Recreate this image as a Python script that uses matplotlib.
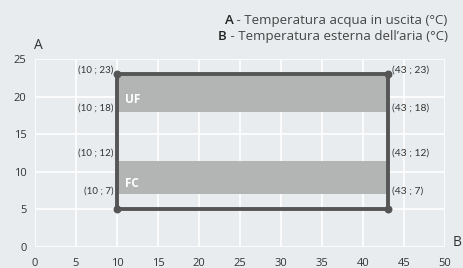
import matplotlib.pyplot as plt

# operating envelope (B = outdoor air temp, A = leaving water temp)
env_x = [10, 43, 43, 10, 10]
env_y = [23, 23, 5, 5, 23]
corner_x = [10, 43, 10, 43]
corner_y = [23, 23, 5, 5]

# shaded bands: (name, y_low, y_high)
bands = [("UF", 18, 23), ("FC", 7, 11.4)]

left_labels = ["(10 ; 23)", "(10 ; 18)", "(10 ; 12)", "(10 ; 7)"]
right_labels = ["(43 ; 23)", "(43 ; 18)", "(43 ; 12)", "(43 ; 7)"]
label_y = [23, 18, 12, 7]

x_ticks = [0, 5, 10, 15, 20, 25, 30, 35, 40, 45, 50]
y_ticks = [0, 5, 10, 15, 20, 25]

legend_keys = ["A", "B"]
legend_texts = [" - Temperatura acqua in uscita (°C)",
                " - Temperatura esterna dell\u2019aria (°C)"]

bg = "#e8ecee"
txt = "#333333"
main_font = ["Open Sans", "DejaVu Sans"]
plt.rcParams["font.family"] = main_font

fig = plt.figure(figsize=(4.63, 2.68), dpi=100, facecolor=bg)
ax = fig.add_axes([0.0756, 0.0784, 0.8855, 0.7016])
ax.set_facecolor(bg)

ax.set_xlim(0, 50)
ax.set_ylim(0, 25)
ax.set_xticks(x_ticks)
ax.set_yticks(y_ticks)
ax.grid(True, color="white", linewidth=1.2)
ax.set_axisbelow(True)
for s in ax.spines.values():
    s.set_visible(False)
ax.tick_params(length=0, labelsize=8, colors=txt, pad=6)
ax.tick_params(axis="x", pad=8)

for name, lo, hi in bands:
    ax.fill_between([10, 43], lo, hi, color="#b3b5b5", zorder=2, linewidth=0)
    ypos = hi - 3.4 if name == "UF" else lo + 1.5
    ax.text(11.0, ypos, name, color="white", fontsize=8.5, fontweight="bold",
            va="center", zorder=3)

ax.plot(env_x, env_y, color="#555555", linewidth=2.8, zorder=4, solid_capstyle="round")
ax.scatter(corner_x, corner_y, s=22, color="#555555", zorder=5)

for lab, y in zip(left_labels, label_y):
    ax.text(9.6, y + 0.5, lab, ha="right", va="center", fontsize=7, color=txt,
            family=["Lato", "DejaVu Sans"])
for lab, y in zip(right_labels, label_y):
    ax.text(43.5, y + 0.5, lab, ha="left", va="center", fontsize=7.4, color=txt,
            family=["Lato", "DejaVu Sans"])

fig.text(0.074, 0.83, "A", fontsize=10, color=txt, ha="left", va="center")
fig.text(0.978, 0.095, "B", fontsize=10, color=txt, ha="left", va="center")

# legend lines: bold key letter followed by the description, right aligned
fig.canvas.draw()
renderer = fig.canvas.get_renderer()
for key, desc, yf in zip(legend_keys, legend_texts, [0.925, 0.862]):
    t = fig.text(0.967, yf, desc, fontsize=9.5, color="#444444", ha="right", va="center")
    bb = t.get_window_extent(renderer)
    x0 = bb.x0 / fig.bbox.width
    fig.text(x0, yf, key, fontsize=9.5, color="#222222", fontweight="semibold",
             ha="right", va="center")

fig.savefig("out.png", dpi=100, facecolor=bg)
